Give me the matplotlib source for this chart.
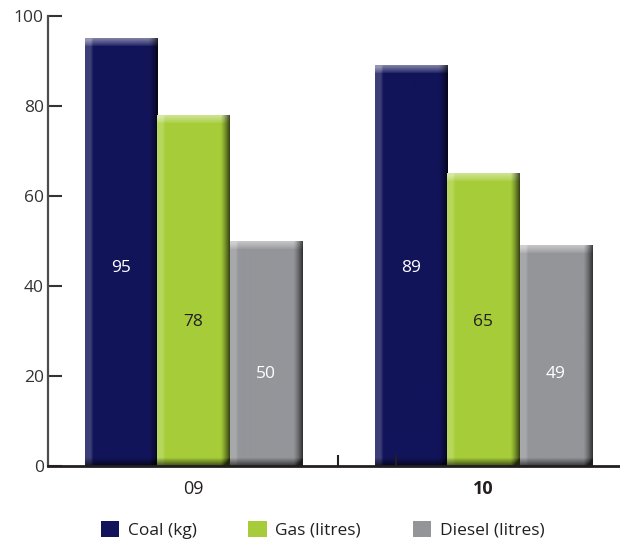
import numpy as np
import matplotlib
matplotlib.use("Agg")
import matplotlib.pyplot as plt
from matplotlib.colors import to_rgb
from matplotlib.patches import Patch

plt.rcParams['font.family'] = ['Open Sans', 'DejaVu Sans']

years = ["09", "10"]
series = ["Coal (kg)", "Gas (litres)", "Diesel (litres)"]
coal = [95, 89]
gas = [78, 65]
diesel = [50, 49]
colors = ["#12145a", "#a6cd39", "#949599"]
label_colors = ["white", "#231f20", "white"]
label_y = [44.0, 32.0, 20.4]

fig = plt.figure(figsize=(6.2, 5.4), dpi=100)
ax = fig.add_axes([48 / 620, 1 - 466 / 540, 1 - 48 / 620, 450 / 540])
ax.set_xlim(-0.502, 1.471)
ax.set_ylim(0, 100)

px_x = 290.0   # pixels per x unit
px_y = 4.5     # pixels per y unit
width = 0.25
offsets = [-0.25, 0.0, 0.25]


def bevel_image(color, w_px, h_px):
    # shaded block: light top/left rim, dark right/bottom rim
    base = np.array(to_rgb(color))
    i = np.arange(h_px)[:, None]
    j = np.arange(w_px)[None, :]
    img = np.ones((h_px, w_px, 3)) * base
    left = np.clip(1 - (j - 5) / 3.0, 0, 1) * 0.18 + 0 * i
    top = np.clip(1 - i / 8.0, 0, 1) ** 0.8 * 0.45 + 0 * j
    right = np.clip(1 - (w_px - 1 - j) / 9.0, 0, 1) ** 1.3 * 0.65 + 0 * i
    bottom = np.clip(1 - (h_px - 1 - i) / 8.0, 0, 1) * 0.6 + 0 * j
    light = np.clip(left + top, 0, 0.55)[..., None]
    dark = np.clip(right + bottom, 0, 0.8)[..., None]
    img = img + (1 - img) * light
    img = img * (1 - dark)
    return np.clip(img, 0, 1)


for s, vals in enumerate([coal, gas, diesel]):
    bars = ax.bar(np.arange(len(years)) + offsets[s], vals, width,
                  color=colors[s], linewidth=0, zorder=1)
    for k, b in enumerate(bars):
        x0 = b.get_x()
        h = b.get_height()
        w_px = int(round(width * px_x))
        h_px = int(round(h * px_y))
        ax.imshow(bevel_image(colors[s], w_px, h_px),
                  extent=(x0, x0 + width, 0, h), aspect='auto',
                  interpolation='bilinear', zorder=1.5)
        ax.text(x0 + width / 2, label_y[s], str(vals[k]), ha='center',
                va='center', fontsize=12.5, color=label_colors[s], zorder=3)

# axes styling
for side in ["top", "right"]:
    ax.spines[side].set_visible(False)
ax.spines["left"].set_color("#4d4d4d")
ax.spines["left"].set_linewidth(1.6)
ax.spines["bottom"].set_color("#231f20")
ax.spines["bottom"].set_linewidth(2.0)
ax.spines["bottom"].set_zorder(4)

ax.set_yticks([0, 20, 40, 60, 80, 100])
ax.tick_params(axis='y', direction='in', length=10, width=1.5,
               color="#333333", labelsize=12.5, labelcolor="#333333", pad=3)

ax.set_xticks([0, 1])
ax.set_xticklabels(years, fontsize=13, color="#231f20")
ax.get_xticklabels()[1].set_fontweight('bold')
ax.tick_params(axis='x', which='major', length=0, pad=10)
ax.set_xticks([0.5, 0.7], minor=True)
ax.tick_params(axis='x', which='minor', direction='in', length=8,
               width=1.5, color="#231f20")

handles = [Patch(facecolor=c, edgecolor='none') for c in colors]
fig.legend(handles, series, loc='center left', bbox_to_anchor=(85 / 620, 1 - 530 / 540),
           ncol=3, frameon=False, fontsize=12.5, handlelength=1.05, handleheight=1.05,
           handletextpad=0.5, columnspacing=3.0, labelcolor="#231f20")

fig.savefig("out.png", dpi=100)
